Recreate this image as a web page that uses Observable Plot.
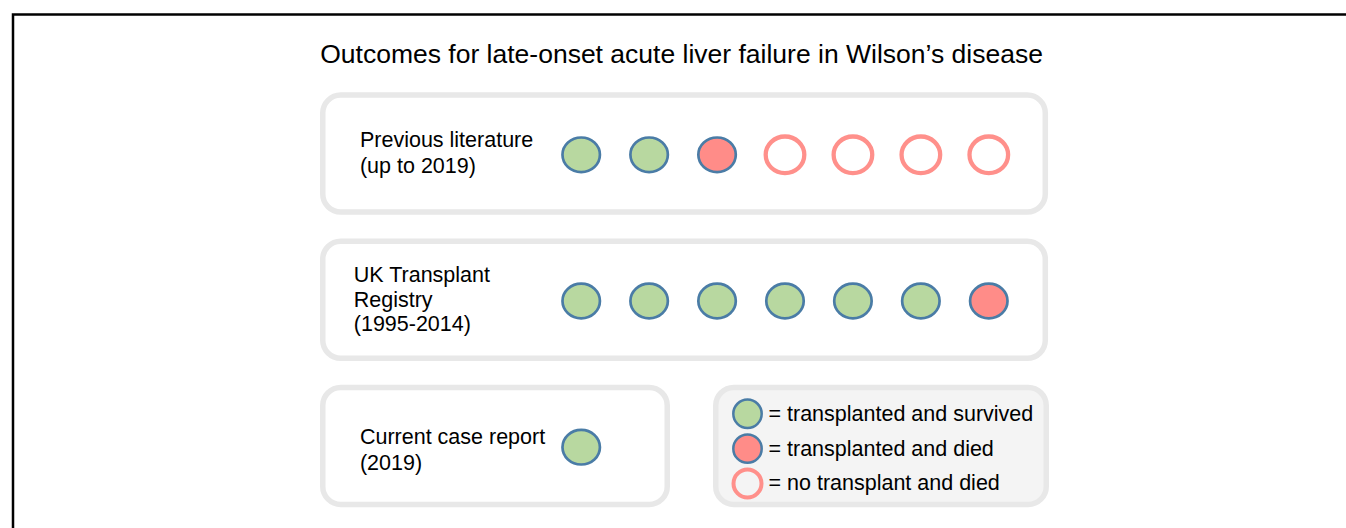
<!DOCTYPE html>
<html><head><meta charset="utf-8">
<script src="https://cdn.jsdelivr.net/npm/d3@7"></script>
<script src="https://cdn.jsdelivr.net/npm/@observablehq/plot@0.6"></script>
<style>
html,body{margin:0;padding:0;background:#fff;overflow:hidden}
#chart svg{display:block}
</style></head><body><div id="chart"></div>
<script>
// ---- data ----
const title = "Outcomes for late-onset acute liver failure in Wilson’s disease";
const groupLabels = ["Previous literature\n(up to 2019)", "UK Transplant\nRegistry\n(1995-2014)", "Current case report\n(2019)"];
const S = "transplanted and survived", D = "transplanted and died", N = "no transplant and died";
const outcomes = [S, D, N];
const previousLiterature = [S, S, D, N, N, N, N];
const ukTransplantRegistry = [S, S, S, S, S, S, D];
const currentCaseReport = [S];
const groupPatients = [previousLiterature, ukTransplantRegistry, currentCaseReport];

// ---- colours / layout ----
const fillColors = ["#b8d8a0", "#ff8c88", "none"];
const blue = "#4a7ca6", pink = "#ff908b", boxStroke = "#e8e8e8", legendFill = "#f4f4f4";
const font = "'Liberation Sans', Arial, Helvetica, sans-serif";
const labelLayout = [{x: -3.257, lh: 1.223, dy: -3}, {x: -3.348, lh: 1.14, dy: -2}, {x: -3.257, lh: 1.21, dy: 1}];
const boxLeft = -3.797, boxRight = 6.839, boxTop = -0.405, boxBottom = 0.395;
const legendRow = 2, legendLeft = 1.988, legendDotX = 2.448, legendTextX = 2.757, legendStep = 0.2385;

function ellipse(aspect) {
  return {draw(ctx, size) {
    const r = Math.sqrt(size / Math.PI), rx = r * aspect, ry = r / aspect, k = 0.5522847498;
    ctx.moveTo(rx, 0);
    ctx.bezierCurveTo(rx, ry * k, rx * k, ry, 0, ry);
    ctx.bezierCurveTo(-rx * k, ry, -rx, ry * k, -rx, 0);
    ctx.bezierCurveTo(-rx, -ry * k, -rx * k, -ry, 0, -ry);
    ctx.bezierCurveTo(rx * k, -ry, rx, -ry * k, rx, 0);
    ctx.closePath();
  }};
}

const patients = groupPatients.flatMap((arr, row) => arr.map((outcome, i) => ({row, i, outcome})));
const labels = groupLabels.map((text, row) => ({row, text, ...labelLayout[row]}));
const boxes = groupLabels.map((g, row) => ({row, x1: boxLeft, x2: row === legendRow ? legendLeft - 0.714 : boxRight, fill: "white"}));
boxes.push({row: legendRow, x1: legendLeft, x2: boxRight + 0.014, fill: legendFill});
const legend = outcomes.map((o, k) => ({outcome: o, y: legendRow + 0.01 + (k - 1) * legendStep}));

const chart = Plot.plot({
  width: 1346, height: 528, margin: 0,
  style: {fontFamily: font, background: "white", color: "#000"},
  x: {domain: [0, 6], range: [580.7, 988.3], axis: null},
  y: {domain: [0, 2], range: [154.3, 446.7], axis: null},
  color: {domain: outcomes, range: fillColors},
  marks: [
    Plot.frame({stroke: "#000", strokeWidth: 2.5, insetLeft: 12.5, insetTop: 14, insetRight: -20, insetBottom: -20}),
    Plot.rect(boxes, {x1: "x1", x2: "x2", y1: d => d.row + boxTop, y2: d => d.row + boxBottom,
      fill: d => d.fill, stroke: boxStroke, strokeWidth: 5.5, rx: 18, ry: 18}),
    Plot.text([title], {x: 1.477, y: -0.689, text: d => d, fontSize: 26.5, textAnchor: "middle", fill: "#000"}),
    ...labels.map(l => Plot.text([l], {x: "x", y: "row", text: "text", fontSize: 21.5, textAnchor: "start",
      lineAnchor: "middle", lineHeight: l.lh, dy: l.dy, fill: "#000"})),
    Plot.dot(patients.filter(d => d.outcome !== N), {x: "i", y: "row", fill: "outcome", stroke: blue, strokeWidth: 2.7,
      r: 18, symbol: ellipse(1.04)}),
    Plot.dot(patients.filter(d => d.outcome === N), {x: "i", y: "row", fill: "none", stroke: pink, strokeWidth: 4.3,
      r: 18.8, symbol: ellipse(1.027)}),
    Plot.dot(legend.filter(d => d.outcome !== N), {x: legendDotX, y: "y", fill: "outcome", stroke: blue, strokeWidth: 2.5, r: 14.2}),
    Plot.dot(legend.filter(d => d.outcome === N), {x: legendDotX, y: "y", fill: "none", stroke: pink, strokeWidth: 4, r: 14}),
    Plot.text(legend, {x: legendTextX, y: "y", text: d => "= " + d.outcome, fontSize: 21.5, textAnchor: "start", fill: "#000"})
  ]
});
document.getElementById("chart").appendChild(chart);
</script></body></html>
